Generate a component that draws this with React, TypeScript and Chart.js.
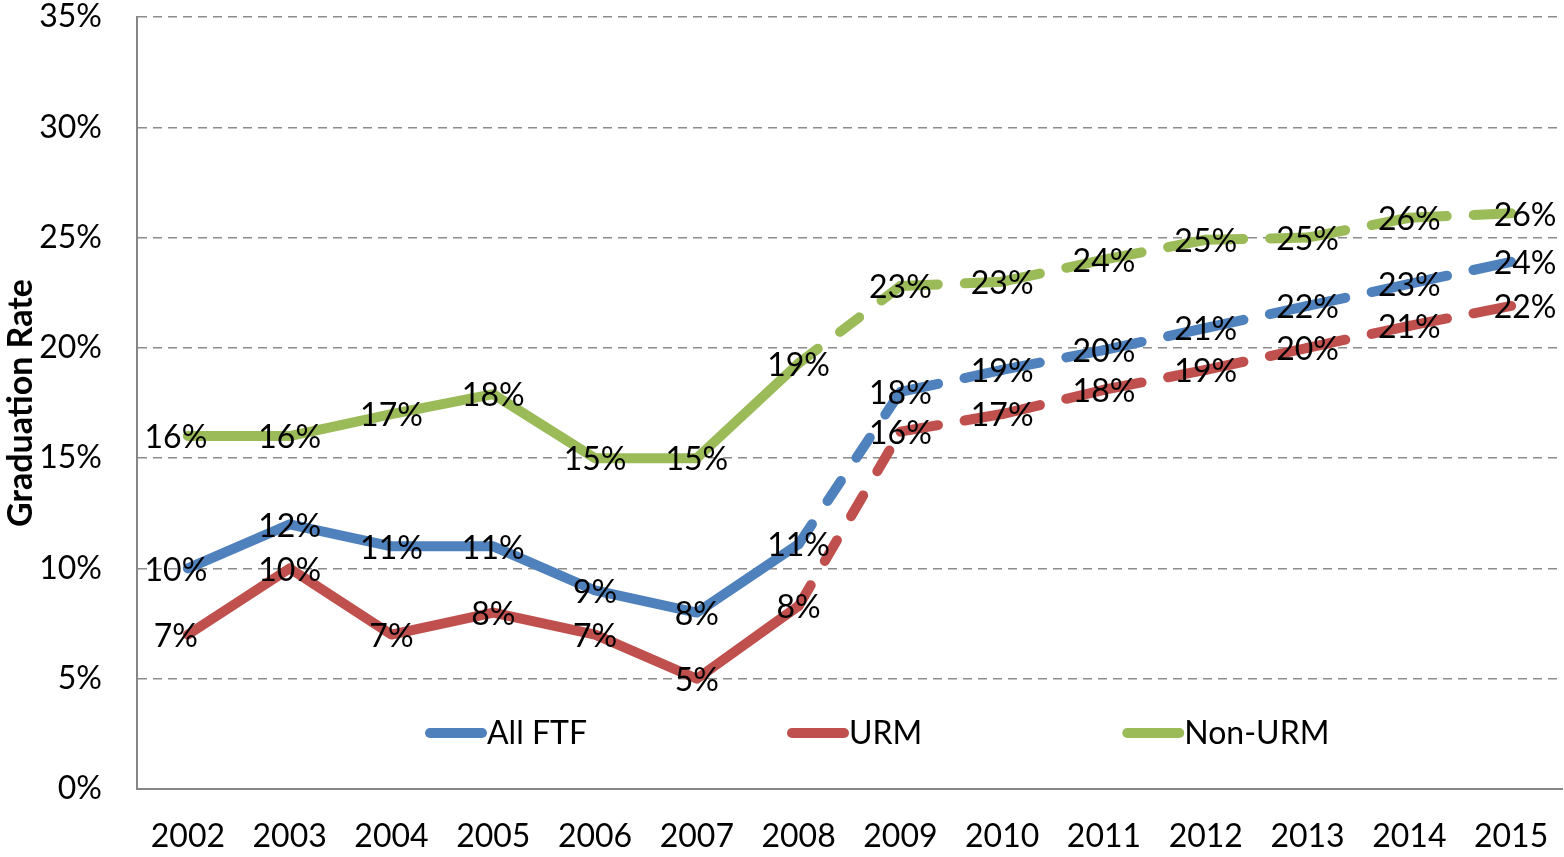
import React, { useEffect, useRef } from 'react';
import { Chart, registerables } from 'chart.js';

Chart.register(...registerables);

const years = ['2002', '2003', '2004', '2005', '2006', '2007', '2008', '2009', '2010', '2011', '2012', '2013', '2014', '2015'];
const allFTF = [10.0, 12.0, 11.0, 11.0, 9.0, 8.0, 11.1, 18.0, 19.0, 19.9, 20.9, 21.9, 22.9, 23.9];
const urm = [7.0, 10.0, 7.0, 8.0, 7.0, 5.0, 8.3, 16.2, 17.0, 18.1, 19.0, 20.0, 21.0, 21.9];
const nonUrm = [16.0, 16.0, 17.0, 17.9, 15.0, 15.0, 19.3, 22.8, 23.0, 24.0, 24.9, 25.0, 25.9, 26.1];
const seriesNames = ['All FTF', 'URM', 'Non-URM'];
const seriesColors = ['#4F81BD', '#C0504D', '#9BBB59'];
const yTicks = [0, 5, 10, 15, 20, 25, 30, 35];
const yTitle = 'Graduation Rate';
const projectionStart = 6; // dashed from 2008 onward

const FONT = 'Lato, "Open Sans", sans-serif';

const dashFor = (ctx: any) => {
  if (ctx.p0DataIndex < projectionStart) return undefined;
  const dx = ctx.p1.x - ctx.p0.x;
  const dy = ctx.p1.y - ctx.p0.y;
  const s = Math.hypot(dx, dy);
  if (Math.abs(dy) > 40) return [24, 28];
  return [Math.max(4, s - 27), 27];
};
const dashOffsetFor = (ctx: any) => {
  if (ctx.p0DataIndex < projectionStart) return 0;
  const dx = ctx.p1.x - ctx.p0.x;
  const dy = ctx.p1.y - ctx.p0.y;
  const s = Math.hypot(dx, dy);
  if (Math.abs(dy) > 40) return 0;
  return Math.max(4, s - 27) / 2;
};

const overlayPlugin = {
  id: 'overlay',
  afterDatasetsDraw(chart: any) {
    const ctx = chart.ctx;
    ctx.save();
    ctx.font = `32px ${FONT}`;
    ctx.fillStyle = '#000';
    ctx.textAlign = 'center';
    ctx.textBaseline = 'middle';
    chart.data.datasets.forEach((ds: any, di: number) => {
      const meta = chart.getDatasetMeta(di);
      meta.data.forEach((pt: any, i: number) => {
        let shift = 0;
        if (i === 0) shift = -12;
        if (i === meta.data.length - 1) shift = 14;
        ctx.fillText(Math.round(ds.data[i]) + '%', pt.x + shift, pt.y + 2);
      });
    });
    ctx.restore();
  },
  afterDraw(chart: any) {
    const ctx = chart.ctx;
    ctx.save();
    // y-axis title
    ctx.font = `bold 34px ${FONT}`;
    ctx.fillStyle = '#000';
    ctx.textAlign = 'center';
    ctx.textBaseline = 'middle';
    ctx.translate(21, (chart.chartArea.top + chart.chartArea.bottom) / 2);
    ctx.rotate(-Math.PI / 2);
    ctx.fillText(yTitle, 0, 0);
    ctx.restore();

    // legend
    ctx.save();
    ctx.font = `32px ${FONT}`;
    ctx.textAlign = 'left';
    ctx.textBaseline = 'middle';
    let x = 425;
    const y = 733;
    seriesNames.forEach((name, i) => {
      ctx.strokeStyle = seriesColors[i];
      ctx.lineWidth = 10;
      ctx.lineCap = 'round';
      ctx.beginPath();
      ctx.moveTo(x + 5, y);
      ctx.lineTo(x + 57, y);
      ctx.stroke();
      ctx.fillStyle = '#000';
      ctx.fillText(name, x + 62, y + 1);
      const w = ctx.measureText(name).width;
      x = x + 62 + w + 200;
    });
    ctx.restore();
  },
};

export default function App() {
  const ref = useRef<HTMLCanvasElement | null>(null);
  useEffect(() => {
    document.body.style.margin = '0';
    if (!ref.current) return;
    const data = [allFTF, urm, nonUrm];
    const chart = new Chart(ref.current, {
      type: 'line',
      data: {
        labels: years,
        datasets: seriesNames.map((name, i) => ({
          label: name,
          data: data[i],
          borderColor: seriesColors[i],
          backgroundColor: seriesColors[i],
          borderWidth: 10,
          borderCapStyle: 'round',
          borderJoinStyle: 'round',
          pointRadius: 0,
          pointHoverRadius: 0,
          tension: 0,
          fill: false,
          segment: {
            borderDash: dashFor,
            borderDashOffset: dashOffsetFor,
          },
        })),
      },
      options: {
        animation: false,
        responsive: false,
        events: [],
        layout: {
          autoPadding: false,
          padding: { top: 17, right: 2, left: 0, bottom: 0 },
        },
        plugins: {
          legend: { display: false },
          tooltip: { enabled: false },
          title: { display: false },
        },
        scales: {
          x: {
            type: 'category',
            offset: true,
            grid: { display: false, drawTicks: false },
            border: { display: true, color: '#868686', width: 2 },
            ticks: {
              color: '#000',
              font: { family: FONT, size: 32 },
              padding: 28,
              maxRotation: 0,
              autoSkip: false,
            },
            afterFit: (s: any) => {
              s.height = 68;
              s.paddingLeft = 0;
              s.paddingRight = 0;
              s.paddingTop = 0;
              s.paddingBottom = 0;
            },
          },
          y: {
            min: 0,
            max: 35,
            afterBuildTicks: (s: any) => {
              s.ticks = yTicks.map((v) => ({ value: v }));
            },
            grid: {
              drawTicks: false,
              color: (c: any) => (c.tick && c.tick.value === 0 ? 'rgba(0,0,0,0)' : '#8c8c8c'),
              lineWidth: 1.5,
            },
            border: { display: true, color: '#868686', width: 2, dash: [9, 6] },
            ticks: {
              color: '#000',
              font: { family: FONT, size: 32 },
              padding: 35,
              callback: (v: any) => v + '%',
            },
            afterFit: (s: any) => {
              s.width = 137;
              s.paddingTop = 0;
              s.paddingBottom = 0;
              s.paddingLeft = 0;
              s.paddingRight = 0;
            },
          },
        },
      },
      plugins: [overlayPlugin],
    } as any);
    return () => chart.destroy();
  }, []);
  return (
    <div style={{ width: 1564, height: 857 }}>
      <canvas ref={ref} width={1564} height={857} style={{ display: 'block', width: 1564, height: 857 }} />
    </div>
  );
}
